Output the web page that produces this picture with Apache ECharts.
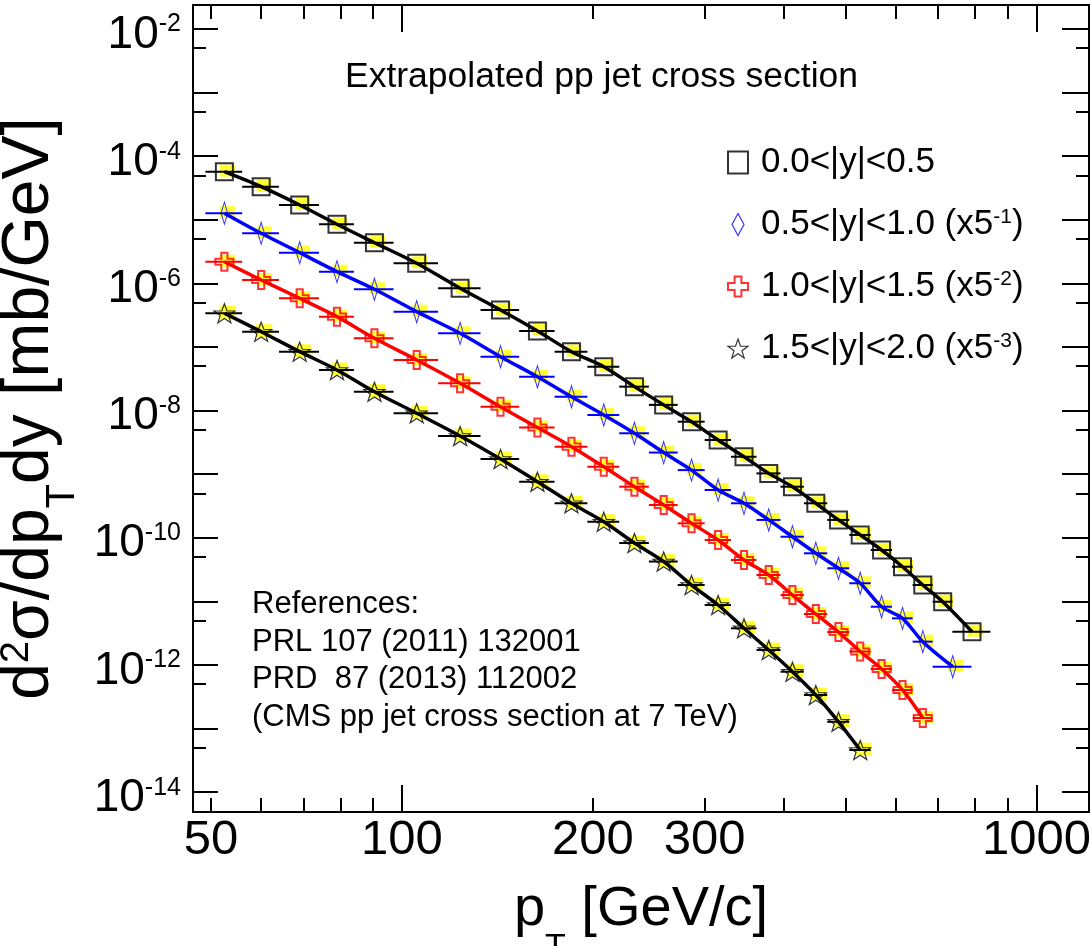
<!DOCTYPE html>
<html>
<head>
<meta charset="utf-8">
<title>Extrapolated pp jet cross section</title>
<script src="https://cdn.jsdelivr.net/npm/echarts@6/dist/echarts.min.js"></script>
<style>
  html, body { margin: 0; padding: 0; background: #fff; }
  #chart { width: 1090px; height: 946px; }
</style>
</head>
<body>
<div id="chart"></div>
<script>
const FONT = "'Liberation Sans', Arial, Helvetica, sans-serif"

// pT bin edges [GeV/c] per rapidity bin
const edgesY0 = [49, 56, 64, 74, 84, 97, 114, 133, 153, 174, 196, 220, 245, 272, 300, 330, 362, 395, 430, 468, 507, 548, 592, 638, 686, 737, 846]
const edgesY1 = [49, 56, 64, 74, 84, 97, 114, 133, 153, 174, 196, 220, 245, 272, 300, 330, 362, 395, 430, 468, 507, 548, 592, 638, 686, 790]
const edgesY2 = [49, 56, 64, 74, 84, 97, 114, 133, 153, 174, 196, 220, 245, 272, 300, 330, 362, 395, 430, 468, 507, 548, 592, 638, 686]
const edgesY3 = [49, 56, 64, 74, 84, 97, 114, 133, 153, 174, 196, 220, 245, 272, 300, 330, 362, 395, 430, 468, 507, 548]

// d2sigma/dpT dy [mb/GeV] (already scaled by 5^-n)
const sigmaY0 = [5.71e-5, 3.32e-5, 1.71e-5, 8.50e-6, 4.36e-6, 2.07e-6, 8.38e-7, 3.82e-7, 1.79e-7, 8.44e-8, 4.90e-8, 2.38e-8, 1.23e-8,
  6.69e-9, 3.45e-9, 1.88e-9, 1.03e-9, 6.36e-10, 3.49e-10, 1.91e-10, 1.11e-10, 6.43e-11, 3.51e-11, 1.81e-11, 9.89e-12, 3.34e-12]
const sigmaY1 = [1.27e-5, 6.13e-6, 3.04e-6, 1.53e-6, 8.08e-7, 3.59e-7, 1.64e-7, 7.04e-8, 3.41e-8, 1.65e-8, 8.53e-9, 4.40e-9, 2.19e-9,
  1.16e-9, 5.64e-10, 3.49e-10, 1.91e-10, 1.04e-10, 5.71e-11, 3.32e-11, 1.93e-11, 8.25e-12, 5.42e-12, 2.33e-12, 9.40e-13]
const sigmaY2 = [2.19e-6, 1.13e-6, 5.83e-7, 3.00e-7, 1.37e-7, 6.25e-8, 2.69e-8, 1.15e-8, 5.42e-9, 2.71e-9, 1.31e-9, 6.36e-10,
  3.28e-10, 1.69e-10, 9.23e-11, 4.48e-11, 2.60e-11, 1.26e-11, 6.34e-12, 3.30e-12, 1.63e-12, 8.65e-13, 4.05e-13, 1.47e-13]
const sigmaY3 = [3.39e-7, 1.74e-7, 8.44e-8, 4.35e-8, 1.98e-8, 9.07e-9, 3.99e-9, 1.73e-9, 7.62e-10, 3.49e-10, 1.79e-10, 8.28e-11,
  4.24e-11, 1.81e-11, 8.78e-12, 3.78e-12, 1.72e-12, 7.85e-13, 3.38e-13, 1.28e-13, 4.61e-14]

const seriesNames = ["0.0<|y|<0.5", "0.5<|y|<1.0 (x5-1)", "1.0<|y|<1.5 (x5-2)", "1.5<|y|<2.0 (x5-3)"]
const seriesColors = ["#000000", "#0000ff", "#ff0000", "#000000"]

// ticks
const xTicksMinor = [50, 60, 70, 80, 90, 200, 300, 400, 500, 600, 700, 800, 900]
const xTicksMajor = [100, 1000]
const xTickLabels = [50, 100, 200, 300, 1000]
const yTicksMajor = [1e-14, 1e-13, 1e-12, 1e-11, 1e-10, 1e-9, 1e-8, 1e-7, 1e-6, 1e-5, 1e-4, 1e-3, 1e-2]
const yTicksMinor = [5e-14, 5e-13, 5e-12, 5e-11, 5e-10, 5e-9, 5e-8, 5e-7, 5e-6, 5e-5, 5e-4, 5e-3]
const yTickLabels = [1e-14, 1e-12, 1e-10, 1e-8, 1e-6, 1e-4, 1e-2]

const xRange = [46.85, 1210]
const yRange = [4.89e-15, 2.38e-2]

const SYM_DIAMOND = "path://M6,0L12,11L6,22L0,11Z"
const SYM_CROSS = "path://M3.3,0H6.7V3.3H10V6.7H6.7V10H3.3V6.7H0V3.3H3.3Z"
const SYM_STAR = "path://M10,0L12.35,6.76L19.51,6.91L13.8,11.24L15.88,18.09L10,14L4.12,18.09L6.2,11.24L0.49,6.91L7.65,6.76Z"

const markers = [
  { symbol: "rect", size: [17, 17], bw: 2 },
  { symbol: SYM_DIAMOND, size: [12, 22], bw: 1.2 },
  { symbol: SYM_CROSS, size: [18, 18], bw: 2 },
  { symbol: SYM_STAR, size: [21, 20], bw: 1.2 },
]

const sets = [
  { edges: edgesY0, values: sigmaY0 },
  { edges: edgesY1, values: sigmaY1 },
  { edges: edgesY2, values: sigmaY2 },
  { edges: edgesY3, values: sigmaY3 },
]

const log10 = Math.log10
const xLog = xRange.map(log10)
const yLog = yRange.map(log10)

function renderBar(params, api) {
  const y = api.value(2)
  const a = api.coord([api.value(0), y])
  const b = api.coord([api.value(1), y])
  return {
    type: "line",
    shape: { x1: a[0], y1: a[1], x2: b[0], y2: b[1] },
    style: { stroke: api.visual("color"), lineWidth: 2 },
  }
}

const series = []
sets.forEach((s, i) => {
  const pts = s.values.map((v, k) => [(s.edges[k] + s.edges[k + 1]) / 2, v])
  const bars = s.values.map((v, k) => [s.edges[k], s.edges[k + 1], v])
  const m = markers[i]
  series.push({
    type: "scatter", data: pts, silent: true, z: 1,
    symbol: "rect", symbolSize: i === 3 ? [16, 13] : [15, 12], symbolOffset: [3, -1],
    itemStyle: { color: "#ffff00" },
  })
  series.push({
    type: "custom", data: bars, silent: true, z: 2,
    encode: { x: [0, 1], y: 2 },
    itemStyle: { color: seriesColors[i] },
    renderItem: renderBar,
  })
  series.push({
    name: seriesNames[i], type: "scatter", data: pts, silent: true, z: 3,
    symbol: m.symbol, symbolSize: m.size, symbolKeepAspect: true,
    itemStyle: { color: "rgba(0,0,0,0)", borderColor: seriesColors[i], borderWidth: m.bw },
  })
  series.push({
    type: "line", data: pts, silent: true, z: 4,
    smooth: 0.3, symbol: "none", showSymbol: false,
    lineStyle: { color: seriesColors[i], width: 3.5 },
  })
})

function tickAxis(position, extent, ticks, length, withLine) {
  return {
    type: "value", position, min: extent[0], max: extent[1],
    axisLine: { show: withLine, onZero: false, lineStyle: { color: "#000", width: 2 } },
    axisTick: { show: true, inside: true, length, customValues: ticks, lineStyle: { color: "#000", width: 2 } },
    axisLabel: { show: false },
    splitLine: { show: false },
  }
}

function titleRich(size, big, small, subPad) {
  return {
    p: { fontSize: big, lineHeight: size, verticalAlign: "top", fontFamily: FONT, color: "#000" },
    sup: { fontSize: small, lineHeight: small, verticalAlign: "top", fontFamily: FONT, color: "#000" },
    sub: { fontSize: small, lineHeight: small, verticalAlign: "top", padding: [subPad, 0, 0, 0], fontFamily: FONT, color: "#000" },
  }
}

const xBottom = tickAxis("bottom", xLog, xTicksMinor.map(log10), 14, true)
Object.assign(xBottom, {
  name: "{p|p}{sub|T}{p| [GeV/c]}",
  nameLocation: "middle", nameGap: 70,
  nameTextStyle: { rich: titleRich(60, 56, 34, 49) },
  axisLabel: {
    show: true, customValues: xTickLabels.map(log10), margin: 4,
    formatter: v => String(Math.round(Math.pow(10, v))),
    fontSize: 49, fontFamily: FONT, color: "#000",
  },
})

const yLeft = tickAxis("left", yLog, yTicksMinor.map(log10), 13, true)
Object.assign(yLeft, {
  name: "{p|d}{sup|2}{p|σ/dp}{sub|T}{p|dy [mb/GeV]}",
  nameLocation: "middle", nameGap: 76,
  nameTextStyle: { rich: titleRich(70, 66, 40, 46) },
  axisLabel: {
    show: true, customValues: yTickLabels.map(log10), margin: 12,
    padding: [12, 0, 0, 0],
    formatter: v => "{b|10}{s|" + Math.round(v) + "}",
    rich: {
      b: { fontSize: 46, lineHeight: 46, fontFamily: FONT, color: "#000" },
      s: { fontSize: 25, lineHeight: 25, verticalAlign: "top", fontFamily: FONT, color: "#000" },
    },
  },
})

function legendLabel(name) {
  const m = name.match(/^(.*\(x5)(-\d)\)$/)
  return m ? "{t|" + m[1] + "}{s|" + m[2] + "}{t|)}" : "{t|" + name + "}"
}

const chart = echarts.init(document.getElementById("chart"), null, { renderer: "canvas" })
chart.setOption({
  animation: false,
  backgroundColor: "#fff",
  textStyle: { fontFamily: FONT },
  grid: { left: 193, top: 5, width: 896, height: 807, containLabel: false, outerBoundsMode: "none" },
  title: [
    {
      text: "Extrapolated pp jet cross section", left: 345, top: 59, padding: 0,
      textStyle: { fontSize: 35.5, fontWeight: "normal", fontFamily: FONT, color: "#000" },
    },
    {
      text: "References:\nPRL 107 (2011) 132001\nPRD  87 (2013) 112002\n(CMS pp jet cross section at 7 TeV)",
      left: 252, top: 586, padding: 0,
      textStyle: { fontSize: 31, lineHeight: 37.5, fontWeight: "normal", fontFamily: FONT, color: "#000" },
    },
  ],
  legend: {
    data: seriesNames.map((n, i) => ({ name: n, itemStyle: { borderWidth: markers[i].bw } })),
    orient: "vertical", left: 727, top: 145, padding: 0,
    itemWidth: 20, itemHeight: 22, itemGap: 27, selectedMode: false,
    formatter: legendLabel,
    textStyle: {
      padding: [0, 0, 0, 8],
      rich: {
        t: { fontSize: 35, lineHeight: 35, fontFamily: FONT, color: "#000" },
        s: { fontSize: 21, lineHeight: 21, verticalAlign: "top", fontFamily: FONT, color: "#000" },
      },
    },
  },
  xAxis: [
    { type: "log", min: xRange[0], max: xRange[1], show: false },
    xBottom,
    tickAxis("bottom", xLog, xTicksMajor.map(log10), 27, false),
    tickAxis("top", xLog, xTicksMinor.map(log10), 14, true),
    tickAxis("top", xLog, xTicksMajor.map(log10), 27, false),
  ],
  yAxis: [
    { type: "log", min: yRange[0], max: yRange[1], show: false },
    yLeft,
    tickAxis("left", yLog, yTicksMajor.map(log10), 25, false),
    tickAxis("right", yLog, yTicksMinor.map(log10), 13, true),
    tickAxis("right", yLog, yTicksMajor.map(log10), 27, false),
  ],
  series,
})
</script>
</body>
</html>
